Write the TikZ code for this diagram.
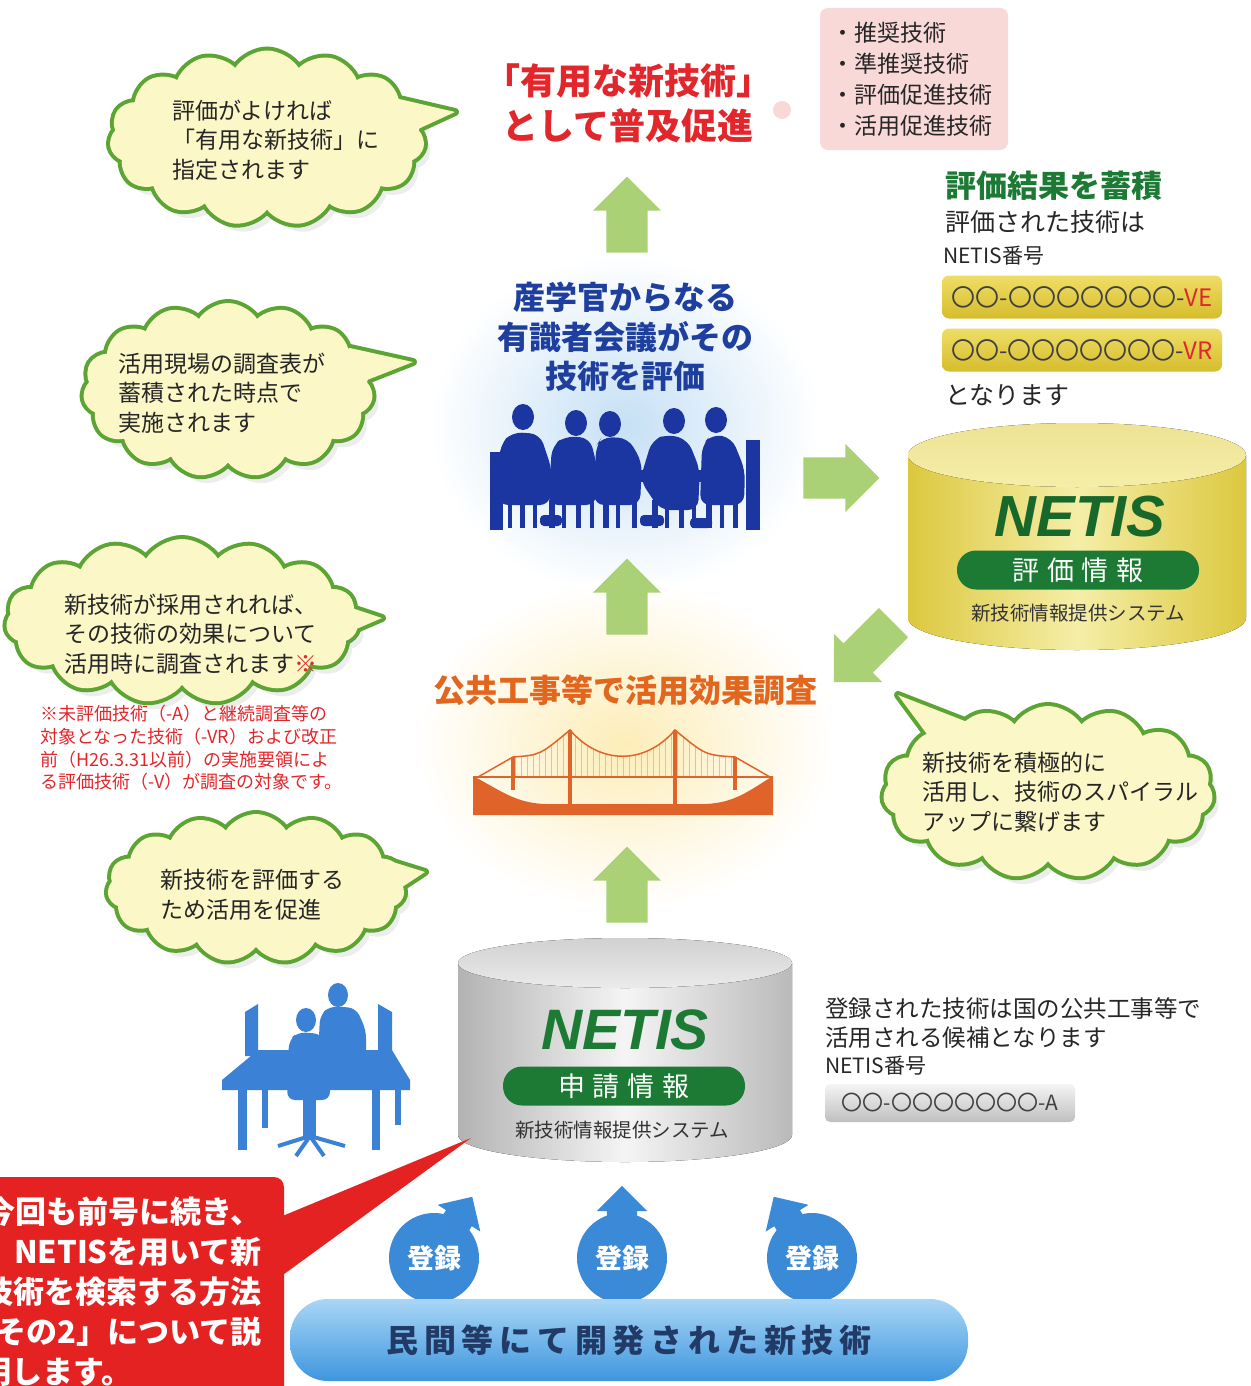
\documentclass[tikz,border=0pt]{standalone}
\usepackage{fontspec}
\setmainfont{Noto Sans CJK JP}
\newfontfamily\logofont{Liberation Sans}
\usepackage{xcolor}
\usepackage{tikz}
\usetikzlibrary{shapes.symbols}
\usetikzlibrary{shapes.arrows}

\definecolor{cloudline}{HTML}{5CA534}
\definecolor{cloudfill}{HTML}{FBF7C6}
\definecolor{leaf}{HTML}{AAD176}
\definecolor{titlered}{HTML}{E2272C}
\definecolor{textblue}{HTML}{1F3F9F}
\definecolor{meetblue}{HTML}{1B36A0}
\definecolor{deskblue}{HTML}{3B82D6}
\definecolor{regblue}{HTML}{3A8AD8}
\definecolor{netisgreen}{HTML}{1C7A34}
\definecolor{surveyorange}{HTML}{E2661D}
\definecolor{bridge}{HTML}{E0642A}
\definecolor{pinkbox}{HTML}{F9D8D8}
\definecolor{glowblue}{HTML}{C6E0F5}
\definecolor{glowyellow}{HTML}{FDEDB8}
\definecolor{calloutred}{HTML}{E52222}
\definecolor{devtext}{HTML}{213A66}
\definecolor{devtop}{HTML}{A9D6F6}
\definecolor{devbottom}{HTML}{3E96DE}
\definecolor{cylgold}{HTML}{DCC83E}
\definecolor{cyllight}{HTML}{F5EEA8}
\definecolor{cyltop}{HTML}{EEE394}
\definecolor{bartop}{HTML}{EFDD66}
\definecolor{barbottom}{HTML}{D6BD2C}

\tikzset{
	puff/.style={cloud, cloud puffs=15, cloud puff arc=115, cloud ignores aspect, inner sep=0pt},
	say/.style={anchor=west, align=left, inner sep=0pt, text=black!85, font=\fontsize{23}{29.5}\selectfont},
	leafarrow/.style={single arrow, fill=leaf, minimum width=68pt, single arrow head extend=13pt, minimum height=76pt, inner xsep=0pt, inner ysep=20pt},
	regarrow/.style={single arrow, fill=regblue, minimum width=50pt, single arrow head extend=10pt, minimum height=72pt, inner xsep=0pt, inner ysep=15pt},
	netisbar/.style={fill=netisgreen, rounded corners=19pt, minimum width=242pt, minimum height=39pt, text=white, font=\fontsize{27}{27}\selectfont},
	goldbar/.style={rounded corners=7pt, minimum width=280pt, minimum height=43pt, top color=bartop, bottom color=barbottom, text=black!75, font=\fontsize{24}{24}\selectfont},
	plain/.style={anchor=west, inner sep=0pt, text=black!85},
	calltext/.style={inner sep=0pt, text=white, font=\bfseries\fontsize{31}{31}\selectfont},
}

\begin{document}
\begin{tikzpicture}[x=1pt, y=-1pt]
	\useasboundingbox (0,0) rectangle (1250,1386);
	\fill[white] (0,0) rectangle (1250,1386);

	% glows behind the council and the survey
	\shade[inner color=glowblue, outer color=white] (625,425) ellipse[x radius=195, y radius=170];
	\shade[inner color=glowyellow, outer color=white] (625,745) ellipse[x radius=210, y radius=165];

	% speech clouds
	\foreach \n/\cx/\cy/\w/\h/\ax/\ay/\tx/\ty/\bx/\by in {
		a/267/138/315/175/395/98/455/112/405/135,
		b/228/390/290/174/350/348/413/362/362/382,
		c/182/621/352/164/322/598/382/618/340/636,
		d/256/888/297/148/380/858/425/872/390/895,
		e/1048/792/330/172/975/725/898/695/935/745}
	{
		\node[puff, fill=black, opacity=0.07, minimum width=\w pt, minimum height=\h pt] (sh\n) at (\cx+6,\cy+8) {};
		\draw[cloudline, line width=8pt, line join=round] (\ax,\ay) -- (\tx,\ty) -- (\bx,\by);
		\node[puff, draw=cloudline, line width=8pt, minimum width=\w pt, minimum height=\h pt] (cl\n) at (\cx,\cy) {};
		\node[puff, fill=cloudfill, minimum width=\w pt, minimum height=\h pt] (cf\n) at (\cx,\cy) {};
		\fill[cloudfill] (\ax,\ay) -- (\tx,\ty) -- (\bx,\by) -- (\cx,\cy) -- cycle;
	}
	\node[say] (ta) at (172,140) {評価がよければ\\「有用な新技術」に\\指定されます};
	\node[say] (tb) at (118,393) {活用現場の調査表が\\蓄積された時点で\\実施されます};
	\node[say] (tc) at (64,634) {新技術が採用されれば、\\その技術の効果について\\活用時に調査されます\textcolor{titlered}{※}};
	\node[say] (td) at (160,895) {新技術を評価する\\ため活用を促進};
	\node[say] (te) at (922,792) {新技術を積極的に\\活用し、技術のスパイラル\\アップに繋げます};
	\node[anchor=west, align=left, inner sep=0pt, text=titlered, font=\fontsize{18}{22.6}\selectfont] (note) at (40,748)
		{※未評価技術（-A）と継続調査等の\\対象となった技術（-VR）および改正\\前（H26.3.31以前）の実施要領によ\\る評価技術（-V）が調査の対象です。};

	% top: promotion
	\node[align=center, inner sep=0pt, text=titlered, font=\bfseries\fontsize{36}{45}\selectfont] (useful) at (628,103) {「有用な新技術」\\として普及促進};
	\fill[pinkbox] (782,110) circle[radius=9];
	\node[fill=pinkbox, rounded corners=8pt, minimum width=188pt, minimum height=142pt, text width=166pt, align=left, inner xsep=11pt, text=black!85, font=\fontsize{23}{31}\selectfont] (kinds) at (914,79)
		{・推奨技術\\・準推奨技術\\・評価促進技術\\・活用促進技術};

	% council
	\node[align=center, inner sep=0pt, text=textblue, font=\bfseries\fontsize{32}{39.5}\selectfont] (council) at (625,337) {産学官からなる\\有識者会議がその\\技術を評価};
	\begin{scope}[meetblue]
		\foreach \x/\y in {523/417, 576/423, 610/424, 674/421, 716/420}
			\fill (\x,\y) ellipse[x radius=11, y radius=13];
		% shoulders and backs
		\fill[rounded corners=10pt] (498,505) -- (500,445) -- (512,432) -- (540,434) -- (552,470) -- (550,505) -- cycle;
		\fill[rounded corners=10pt] (548,505) -- (552,446) -- (565,436) -- (590,438) -- (598,470) -- (596,505) -- cycle;
		\fill[rounded corners=10pt] (594,505) -- (596,446) -- (602,437) -- (628,438) -- (642,462) -- (640,505) -- cycle;
		\fill[rounded corners=10pt] (640,480) -- (652,440) -- (668,434) -- (688,440) -- (700,470) -- (698,510) -- (660,510) -- cycle;
		\fill[rounded corners=10pt] (700,505) -- (702,445) -- (712,434) -- (732,438) -- (745,470) -- (744,505) -- cycle;
		% table and chairs
		\fill (520,470) rectangle (735,482);
		\fill (490,452) rectangle (503,530);
		\fill (746,440) rectangle (760,530);
		\foreach \x/\w in {508/4, 520/5, 533/4, 549/6, 562/4, 576/5, 590/4, 603/6, 616/4, 632/5, 652/6, 665/4, 679/5, 692/4, 706/6, 720/4, 733/5}
			\fill (\x,500) rectangle (\x+\w,528);
		\fill[rounded corners=4pt] (540,515) rectangle (562,526);
		\fill[rounded corners=4pt] (640,515) rectangle (664,526);
		\fill[rounded corners=4pt] (690,518) rectangle (712,528);
	\end{scope}

	% results held in NETIS
	\node[plain, text=netisgreen, font=\bfseries\fontsize{31}{31}\selectfont] (stored) at (945,186) {評価結果を蓄積};
	\node[plain, font=\fontsize{25}{25}\selectfont] (evald) at (945,222) {評価された技術は};
	\node[plain, font=\fontsize{21}{21}\selectfont] (numa) at (943,256) {NETIS番号};
	\node[goldbar] (ve) at (1082,297) {〇〇-〇〇〇〇〇〇〇-\textcolor{titlered}{VE}};
	\node[goldbar] (vr) at (1082,350) {〇〇-〇〇〇〇〇〇〇-\textcolor{titlered}{VR}};
	\node[plain, font=\fontsize{25}{25}\selectfont] (naru) at (945,395) {となります};

	% yellow cylinder
	\fill[left color=cylgold, right color=cylgold, middle color=cyllight]
		(908,455) -- (908,618) arc[start angle=180, end angle=0, x radius=169, y radius=32] -- (1246,455) -- cycle;
	\fill[top color=cyltop, bottom color=cyllight] (1077,455) ellipse[x radius=169, y radius=32];
	\node[inner sep=0pt, text=netisgreen!85!black, font=\logofont\bfseries\itshape\fontsize{58}{58}\selectfont] (netisy) at (1080,517) {NETIS};
	\node[netisbar] (evalinfo) at (1078,570) {評\hspace{8pt}価\hspace{8pt}情\hspace{8pt}報};
	\node[inner sep=0pt, text=black!80, font=\fontsize{19.5}{19.5}\selectfont] (sysy) at (1078,613) {新技術情報提供システム};

	% survey in public works
	\node[inner sep=0pt, text=surveyorange, font=\bfseries\fontsize{32}{32}\selectfont] (survey) at (625,690) {公共工事等で活用効果調査};
	\fill[bridge] (473,776) .. controls (500,790) and (515,803) .. (545,804) -- (705,804) .. controls (735,803) and (750,790) .. (773,776) -- (773,815) -- (473,815) -- cycle;
	\begin{scope}
		\clip (513,757) .. controls (540,755) .. (570,730) .. controls (600,765) and (645,765) .. (675,730) .. controls (705,755) .. (735,757) -- (735,777) -- (513,777) -- cycle;
		\foreach \x in {515,521,...,735}
			\draw[bridge!45, line width=1pt] (\x,720) -- (\x,777);
	\end{scope}
	\draw[bridge, line width=1.5pt] (473,777) -- (773,777);
	\draw[bridge, line width=1.5pt] (478,777) -- (513,757) .. controls (540,755) .. (570,730) .. controls (600,765) and (645,765) .. (675,730) .. controls (705,755) .. (735,757) -- (770,777);
	\foreach \x/\t/\b in {513/757/790, 570/730/804, 675/730/804, 735/757/790}
		\draw[bridge, line width=4pt] (\x,\t) -- (\x,\b);

	% green flow arrows
	\node[leafarrow, rotate=90] (up1) at (627,225) {};
	\node[leafarrow, rotate=0] (right1) at (831,478) {};
	\node[leafarrow, rotate=225, minimum height=84pt] (back1) at (871,645) {};
	\node[leafarrow, rotate=90] (up2) at (627,607) {};
	\node[leafarrow, rotate=90] (up3) at (627,895) {};

	% gray cylinder
	\fill[left color=black!30, right color=black!27, middle color=black!4]
		(458,963) -- (458,1135) arc[start angle=180, end angle=0, x radius=167, y radius=27] -- (792,963) -- cycle;
	\fill[top color=black!18, bottom color=black!8] (625,963) ellipse[x radius=167, y radius=25];
	\node[inner sep=0pt, text=netisgreen, font=\logofont\bfseries\itshape\fontsize{57}{57}\selectfont] (netisg) at (625,1030) {NETIS};
	\node[netisbar] (applyinfo) at (624,1086) {申\hspace{8pt}請\hspace{8pt}情\hspace{8pt}報};
	\node[inner sep=0pt, text=black!80, font=\fontsize{19.5}{19.5}\selectfont] (sysg) at (622,1130) {新技術情報提供システム};

	% office silhouette
	\begin{scope}[deskblue]
		\fill (245,1012) -- (258,1004) -- (258,1056) -- (245,1056) -- cycle;
		\fill (378,1004) -- (392,1012) -- (392,1056) -- (378,1056) -- cycle;
		\fill (338,995) ellipse[x radius=10, y radius=12];
		\fill[rounded corners=8pt] (318,1060) -- (320,1015) -- (330,1006) -- (356,1008) -- (366,1030) -- (366,1060) -- cycle;
		\fill (222,1080) -- (258,1050) -- (392,1050) -- (410,1080) -- (410,1090) -- (222,1090) -- cycle;
		\fill (238,1088) rectangle (247,1150);
		\fill (262,1088) rectangle (268,1128);
		\fill (372,1088) rectangle (380,1150);
		\fill (395,1088) rectangle (401,1125);
		\fill (306,1020) ellipse[x radius=10, y radius=12];
		\fill[rounded corners=8pt] (287,1100) -- (289,1040) -- (298,1032) -- (322,1034) -- (330,1060) -- (330,1100) -- cycle;
		\fill (303,1098) rectangle (316,1138);
		\draw[line width=4pt] (278,1146) -- (310,1136) -- (345,1146);
		\draw[line width=4pt] (296,1156) -- (310,1136) -- (324,1156);
	\end{scope}

	% registered in NETIS
	\node[plain, align=left, font=\fontsize{23.5}{29}\selectfont] (cand) at (825,1023) {登録された技術は国の公共工事等で\\活用される候補となります};
	\node[plain, font=\fontsize{21}{21}\selectfont] (numb) at (825,1066) {NETIS番号};
	\node[rounded corners=5pt, minimum width=250pt, minimum height=38pt, top color=black!4, bottom color=black!25, text=black!75, font=\fontsize{21}{21}\selectfont] (ano) at (950,1103) {〇〇-〇〇〇〇〇〇〇-A};

	% red callout
	\fill[calloutred, rounded corners=10pt] (-30,1177) rectangle (284,1420);
	\fill[calloutred] (280,1217) -- (471,1138) -- (280,1277) -- cycle;
	\foreach \i/\t in {1/今回も前号に続き、, 2/NETISを用いて新, 3/技術を検索する方法, 4/「その2」について説}
		\node[calltext, anchor=east] (call\i) at (262,1172+40*\i) {\t};
	\node[calltext, anchor=west] (call5) at (-20,1372) {明します。};

	% registration from the developers
	\foreach \n/\x/\ang in {1/434/58, 2/622/90, 3/812/122} {
		\node[regarrow, rotate=\ang, anchor=tail] (regarr\n) at (\x,1258) {};
		\node[circle, fill=regblue, minimum size=90pt, inner sep=0pt, text=white, font=\bfseries\fontsize{27}{27}\selectfont] (reg\n) at (\x,1258) {登録};
	}
	\node[rounded corners=38pt, minimum width=678pt, minimum height=82pt, top color=devtop, bottom color=devbottom, text=devtext, font=\bfseries\fontsize{32}{32}\selectfont\addfontfeatures{LetterSpace=18}] (dev) at (629,1340) {民間等にて開発された新技術};
\end{tikzpicture}
\end{document}
